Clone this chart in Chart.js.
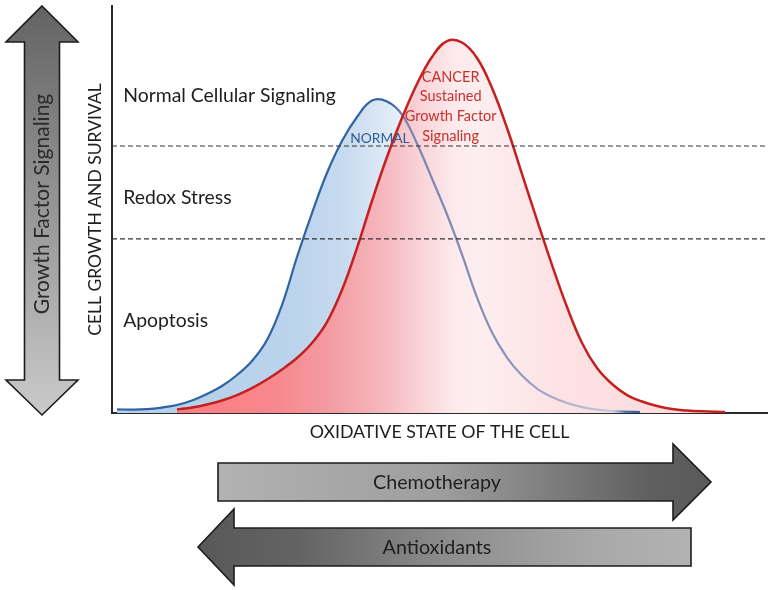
<!DOCTYPE html>
<html>
<head>
<meta charset="utf-8">
<script src="https://cdn.jsdelivr.net/npm/chart.js@4.4.1/dist/chart.umd.min.js"></script>
<style>
  html, body { margin: 0; padding: 0; background: #fff; }
</style>
</head>
<body>
<canvas id="chart" width="774" height="590"></canvas>
<script>
// curve values (x: oxidative state 0-100, y: growth 0-100)
const normalX = [0.76, 3.05, 5.34, 7.63, 9.92, 12.21, 14.50, 16.79, 19.08, 21.37, 23.66, 25.95, 28.24, 30.53, 32.82, 35.11, 37.40, 39.69,
  41.98, 44.27, 46.56, 48.85, 51.15, 53.44, 55.73, 58.02, 60.31, 62.60, 64.89, 67.18, 69.47, 71.76, 74.05, 76.34, 78.63, 80.61];
const normalY = [0.9, 0.85, 0.95, 1.35, 1.97, 3.07, 4.67, 6.63, 9.34, 12.78, 17.94, 26.54, 38.33, 49.14, 58.97, 66.83, 72.73, 76.76,
  76.54, 73.34, 66.22, 57.62, 48.77, 38.94, 28.38, 19.78, 13.64, 9.21, 6.02, 3.93, 2.46, 1.47, 0.86, 0.49, 0.32, 0.25];
const cancerX = [9.92, 12.21, 14.50, 16.79, 19.08, 21.37, 23.66, 25.95, 28.24, 30.53, 32.82, 35.11, 37.40, 39.69, 41.98, 44.27, 46.56,
  48.85, 51.15, 53.44, 55.73, 58.02, 60.31, 62.60, 64.89, 67.18, 69.47, 71.76, 74.05, 76.34, 78.63, 80.92, 83.21, 85.50, 87.79, 90.08, 93.59];
const cancerY = [0.86, 1.35, 2.09, 3.07, 4.42, 6.14, 8.23, 10.69, 13.51, 17.20, 22.36, 30.22, 40.54, 52.09, 62.90, 72.48, 80.84,
  87.47, 91.40, 91.03, 87.22, 79.85, 70.02, 58.72, 47.42, 36.36, 26.04, 17.20, 11.06, 7.13, 4.42, 2.83, 1.72, 0.98, 0.61, 0.42, 0.25];

const thresholds = [65.6, 42.8];
const regionLabels = ['Normal Cellular Signaling', 'Redox Stress', 'Apoptosis'];
const regionLabelY = [77.9, 53.0, 22.6];
const regionLabelX = 1.7;
const normalLabel = 'NORMAL';
const normalLabelPos = [40.9, 67.5];
const cancerLabel = ['CANCER', 'Sustained', 'Growth Factor', 'Signaling'];
const cancerLabelX = 51.7;
const cancerLabelY = [82.4, 77.7, 72.8, 68.1];

const FONT = 'Lato';

function toPoints(xs, ys) {
  return xs.map((x, i) => ({ x: x, y: ys[i] }));
}

// horizontal gradient, stops given in x-axis units
function hGradient(chart, stops, fallback) {
  const xs = chart.scales.x;
  if (!xs || !chart.chartArea) return fallback;
  const x0 = xs.getPixelForValue(0);
  const x1 = xs.getPixelForValue(100);
  const g = chart.ctx.createLinearGradient(x0, 0, x1, 0);
  stops.forEach(s => g.addColorStop(s[0] / 100, s[1]));
  return g;
}

const blueFill = [[0, '#b5cfea'], [28, '#bbd3ec'], [36, '#c8dbef'], [42.4, '#e0ebf7'], [48.5, '#ffffff'], [100, '#ffffff']];
const redFill = [[0, '#ff7a7e'], [10, '#ff7c80'], [25.6, '#f7898e'], [33.3, '#f39ca2'], [41, '#f4b6bc'], [47, '#f9d3d7'],
  [52.4, '#fdeaec'], [56, '#fdeef0'], [68, '#fde2e4'], [93.6, '#fbd9dc'], [100, '#fbd9dc']];
const blueLine = [[0, '#2e64a3'], [42.5, '#3064a2'], [44.5, '#7784b0'], [60, '#8892ba'], [72, '#b5bcd6'],
  [76.5, '#c8cde2'], [78.5, '#3d63a0'], [100, '#3d63a0']];

function arrow(ctx, pts, grad) {
  ctx.beginPath();
  pts.forEach((p, i) => i ? ctx.lineTo(p[0], p[1]) : ctx.moveTo(p[0], p[1]));
  ctx.closePath();
  ctx.fillStyle = grad;
  ctx.fill();
  ctx.lineWidth = 1.6;
  ctx.strokeStyle = '#1c1c1c';
  ctx.stroke();
}

const decor = {
  id: 'decor',
  afterDraw(chart) {
    const ctx = chart.ctx;
    const xs = chart.scales.x, ys = chart.scales.y;
    ctx.save();

    // band labels
    ctx.font = '19.4px ' + FONT;
    ctx.fillStyle = '#1e1e1e';
    ctx.textAlign = 'left';
    ctx.textBaseline = 'middle';
    regionLabels.forEach((t, i) => {
      ctx.fillText(t, xs.getPixelForValue(regionLabelX), ys.getPixelForValue(regionLabelY[i]));
    });

    // curve labels
    ctx.textAlign = 'center';
    ctx.font = '13.8px ' + FONT;
    ctx.fillStyle = '#2f5c9a';
    ctx.fillText(normalLabel, xs.getPixelForValue(normalLabelPos[0]), ys.getPixelForValue(normalLabelPos[1]));
    ctx.font = '14.5px ' + FONT;
    ctx.fillStyle = '#c8302c';
    cancerLabel.forEach((t, i) => {
      ctx.fillText(t, xs.getPixelForValue(cancerLabelX), ys.getPixelForValue(cancerLabelY[i]));
    });

    // vertical double arrow on the left
    let g = ctx.createLinearGradient(0, 6, 0, 415);
    g.addColorStop(0, '#636363');
    g.addColorStop(1, '#cacaca');
    arrow(ctx, [[42, 6], [78, 42], [59.5, 42], [59.5, 380], [78, 380], [42, 415], [6, 380], [24.5, 380], [24.5, 42], [6, 42]], g);
    ctx.save();
    ctx.translate(42, 204);
    ctx.rotate(-Math.PI / 2);
    ctx.font = '21px ' + FONT;
    ctx.fillStyle = '#2a2a2a';
    ctx.fillText('Growth Factor Signaling', 0, 0);
    ctx.restore();

    // chemotherapy arrow
    g = ctx.createLinearGradient(218, 0, 711, 0);
    g.addColorStop(0, '#b2b2b2');
    g.addColorStop(0.45, '#9e9e9e');
    g.addColorStop(0.7, '#7a7a7a');
    g.addColorStop(0.88, '#5f5f5f');
    g.addColorStop(1, '#5a5a5a');
    arrow(ctx, [[218, 463], [673, 463], [673, 444], [711, 482], [673, 520], [673, 501], [218, 501]], g);

    // antioxidants arrow
    g = ctx.createLinearGradient(198, 0, 691, 0);
    g.addColorStop(0, '#585858');
    g.addColorStop(0.2, '#636363');
    g.addColorStop(0.5, '#8c8c8c');
    g.addColorStop(0.8, '#a8a8a8');
    g.addColorStop(1, '#b2b2b2');
    arrow(ctx, [[198, 547], [234, 509], [234, 528], [691, 528], [691, 566], [234, 566], [234, 585]], g);

    ctx.font = '19.7px ' + FONT;
    ctx.fillStyle = '#1e1e1e';
    ctx.fillText('Chemotherapy', 437, 483);
    ctx.fillText('Antioxidants', 437, 548);
    ctx.restore();
  }
};

new Chart(document.getElementById('chart'), {
  type: 'line',
  data: {
    datasets: [
      {
        label: 'upper threshold',
        data: [{ x: 0, y: thresholds[0] }, { x: 100, y: thresholds[0] }],
        borderColor: '#333', borderWidth: 1.2, borderDash: [5, 3], pointRadius: 0, fill: false
      },
      {
        label: 'lower threshold',
        data: [{ x: 0, y: thresholds[1] }, { x: 100, y: thresholds[1] }],
        borderColor: '#333', borderWidth: 1.2, borderDash: [5, 3], pointRadius: 0, fill: false
      },
      {
        label: 'CANCER',
        data: toPoints(cancerX, cancerY),
        borderColor: '#c3211f',
        borderWidth: 2.5,
        backgroundColor: ctx => hGradient(ctx.chart, redFill, '#f8c8cc'),
        fill: 'origin',
        pointRadius: 0,
        tension: 0.4
      },
      {
        label: 'NORMAL',
        data: toPoints(normalX, normalY),
        borderColor: ctx => hGradient(ctx.chart, blueLine, '#2e64a3'),
        borderWidth: 2.2,
        backgroundColor: ctx => hGradient(ctx.chart, blueFill, '#c8dbef'),
        fill: 'origin',
        pointRadius: 0,
        tension: 0.4
      }
    ]
  },
  options: {
    responsive: false,
    animation: false,
    events: [],
    layout: { padding: { left: 85, top: 6, right: 7, bottom: 146.6 } },
    plugins: {
      legend: { display: false },
      tooltip: { enabled: false },
      filler: { drawTime: 'beforeDatasetsDraw' }
    },
    scales: {
      x: {
        type: 'linear', min: 0, max: 100,
        ticks: { display: false },
        grid: { display: false, drawTicks: false },
        border: { color: '#2a2a2a', width: 2 },
        title: {
          display: true, text: 'OXIDATIVE STATE OF THE CELL', color: '#1e1e1e',
          font: { family: FONT, size: 17.8 }, padding: { top: 9, bottom: 0 }
        }
      },
      y: {
        type: 'linear', min: 0, max: 100,
        ticks: { display: false },
        grid: { display: false, drawTicks: false },
        border: { color: '#2a2a2a', width: 2 },
        title: {
          display: true, text: 'CELL GROWTH AND SURVIVAL', color: '#1e1e1e',
          font: { family: FONT, size: 17.5 }, padding: { top: 0, bottom: 6 }
        }
      }
    }
  },
  plugins: [decor]
});
</script>
</body>
</html>
